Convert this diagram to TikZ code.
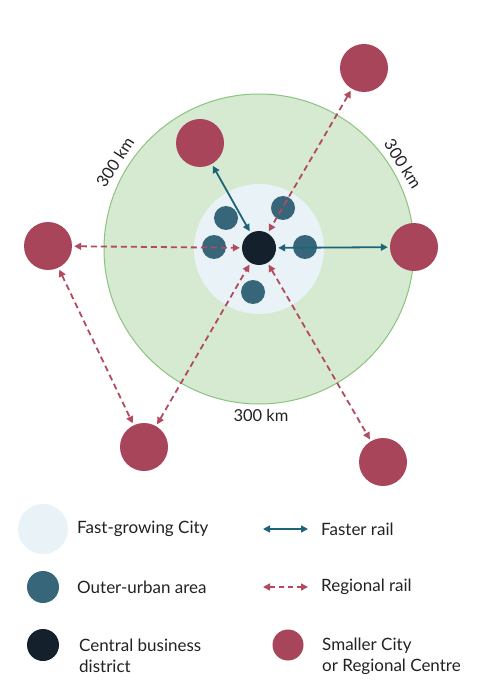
\documentclass[tikz,border=0pt]{standalone}
\usepackage{fontspec}
\setmainfont{Lato}
\usetikzlibrary{arrows.meta}
\definecolor{greenfill}{HTML}{D6E9D1}
\definecolor{greenline}{HTML}{8CC47E}
\definecolor{cityblue}{HTML}{E9F2F6}
\definecolor{outerblue}{HTML}{376579}
\definecolor{cbdcol}{HTML}{14202B}
\definecolor{smallred}{HTML}{A9455A}
\definecolor{railred}{HTML}{B34A60}
\definecolor{fastteal}{HTML}{1E6479}
\definecolor{txt}{HTML}{222222}
\tikzset{
  dot/.style={circle, inner sep=0pt, draw=none},
  smallcity/.style={dot, fill=smallred, minimum size=48pt},
  outer/.style={dot, fill=outerblue, minimum size=24pt},
  cbd/.style={dot, fill=cbdcol, minimum size=34pt},
  fastrail/.style={draw=fastteal, line width=1.8pt, {Triangle[length=7pt,width=7pt]}-{Triangle[length=7pt,width=7pt]}, shorten <=2pt, shorten >=2pt},
  regrail/.style={draw=railred, line width=1.8pt, dash pattern=on 6pt off 4pt, {Triangle[length=7pt,width=7pt]}-{Triangle[length=7pt,width=7pt]}, shorten <=2pt, shorten >=2pt},
  lbl/.style={text=txt, font=\fontsize{16.5}{18}\selectfont, inner sep=0pt},
  leg/.style={text=txt, font=\fontsize{17}{21}\selectfont, inner sep=0pt, anchor=west, align=left},
}
\begin{document}
\begin{tikzpicture}[x=1pt,y=-1pt]
\useasboundingbox (0,0) rectangle (480,700);
\fill[white] (0,0) rectangle (480,700);
% big region
\draw[greenline, fill=greenfill, line width=1pt] (259,249) circle (155);
\fill[cityblue] (259,249) circle (65);
% outer-urban areas
\node[outer] (o1) at (226,218) {};
\node[outer] (o2) at (283,208) {};
\node[outer] (o3) at (214,247) {};
\node[outer] (o4) at (305,247) {};
\node[outer] (o5) at (253,292) {};
% CBD
\node[cbd] (cbd) at (259,248) {};
% smaller cities
\node[smallcity] (s1) at (364,68) {};
\node[smallcity] (s2) at (200,143) {};
\node[smallcity] (s3) at (48,246) {};
\node[smallcity] (s4) at (414,247) {};
\node[smallcity] (s5) at (144,447) {};
\node[smallcity] (s6) at (383,462) {};
% rails
\draw[fastrail] (s2) -- (cbd);
\draw[fastrail] (cbd) -- (s4);
\draw[regrail] (s1) -- (cbd);
\draw[regrail] (s3) -- (cbd);
\draw[regrail] (s3) -- (s5);
\draw[regrail] (s5) -- (cbd);
\draw[regrail] (cbd) -- (s6);
% distance labels
\node[lbl, rotate=57] (d1) at (115,162) {300 km};
\node[lbl, rotate=-58] (d2) at (403,164) {300 km};
\node[lbl] (d3) at (261,415) {300 km};
% legend
\node[dot, fill=cityblue, minimum size=50pt] (l1) at (43,529) {};
\node[leg] (t1) at (77,529) {Fast-growing City};
\node[dot, fill=outerblue, minimum size=32pt] (l2) at (43,587) {};
\node[leg] (t2) at (77,587) {Outer-urban area};
\node[dot, fill=cbdcol, minimum size=32pt] (l3) at (43,645) {};
\node[leg] (t3) at (79,656) {Central business\\district};
\coordinate (fa) at (263,529);
\coordinate (fb) at (308,529);
\draw[fastrail, shorten <=0pt, shorten >=0pt, line width=1.5pt] (fa) -- (fb);
\node[leg] (t4) at (321,529) {Faster rail};
\coordinate (ra) at (263,587);
\coordinate (rb) at (308,587);
\draw[regrail, shorten <=0pt, shorten >=0pt, line width=1.5pt, dash pattern=on 5pt off 4pt] (ra) -- (rb);
\node[leg] (t5) at (321,587) {Regional rail};
\node[dot, fill=smallred, minimum size=31pt] (l6) at (288,645) {};
\node[leg] (t6) at (322,656) {Smaller City\\or Regional Centre};
\end{tikzpicture}
\end{document}
